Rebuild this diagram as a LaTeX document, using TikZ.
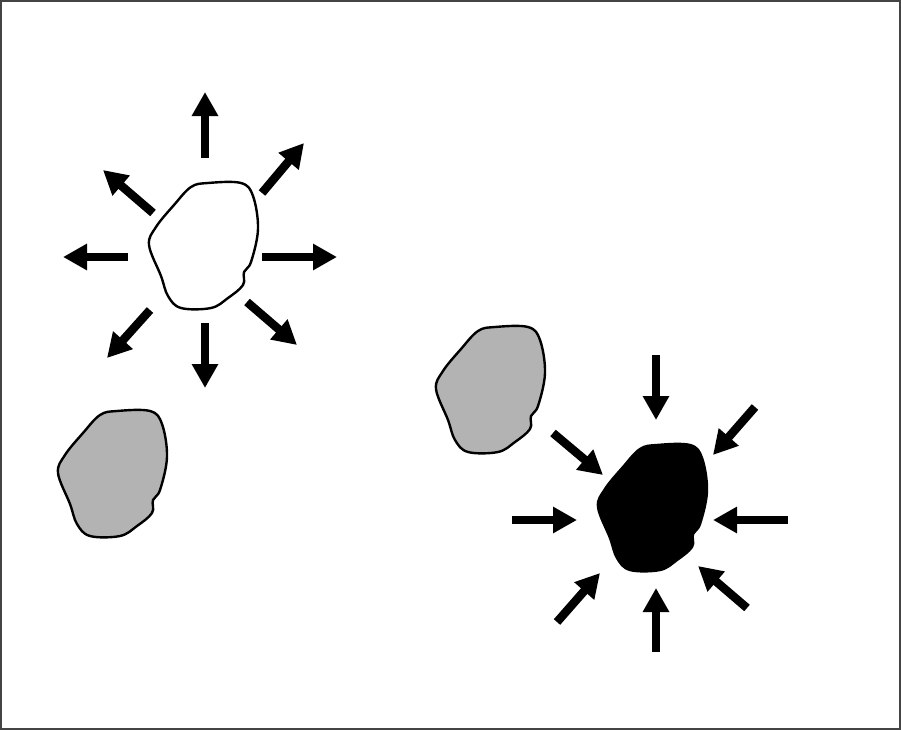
\documentclass[tikz,border=0pt]{standalone}
\usetikzlibrary{arrows.meta}
\definecolor{rockgray}{HTML}{B3B3B3}
\definecolor{framegray}{HTML}{444444}
\tikzset{
  pics/blob/.style={code={
    \draw[line width=0.072cm, fill=#1] plot[smooth cycle, tension=0.6] coordinates {
      (-12,-58) (5,-62) (38,-62) (50,-49) (55,-16) (48,17) (41,27) (40,40) (25,53)
      (8,63) (-22,63) (-35,51) (-42,31) (-54,0) (-47,-18) (-29,-40)};
  }},
  push/.style={line width=0.255cm, -{Triangle[length=0.72cm,width=0.75cm]}},
}
\begin{document}
\begin{tikzpicture}[x=0.03cm, y=-0.03cm]
  \useasboundingbox (0,0) rectangle (901,730);
  \draw[framegray, line width=0.045cm] (0.8,0.8) rectangle (900.2,729.2);

  % rocks
  \pic (hot)   at (203,245) {blob=white};
  \pic (rockA) at (112,473) {blob=rockgray};
  \pic (rockB) at (490,389) {blob=rockgray};
  \pic (cold)  at (652,507) {blob=black};

  % outgoing arrows
  \foreach \sx/\sy/\tx/\ty in {205/158/205/92, 262/193/304/143, 262/257/337/257,
      247/302/297/345, 205/323/205/388, 150/310/107/358, 128/257/63/257, 153/213/103/170}{
    \coordinate (s) at (\sx,\sy);
    \coordinate (t) at (\tx,\ty);
    \draw[push] (s) -- (t);
  }

  % incoming arrows
  \foreach \sx/\sy/\tx/\ty in {656/355/656/420, 755/407/713/455, 788/520/713/520,
      747/608/698/566, 656/652/656/588, 557/622/600/573, 512/520/577/520, 553/433/603/475}{
    \coordinate (s) at (\sx,\sy);
    \coordinate (t) at (\tx,\ty);
    \draw[push] (s) -- (t);
  }
\end{tikzpicture}
\end{document}
